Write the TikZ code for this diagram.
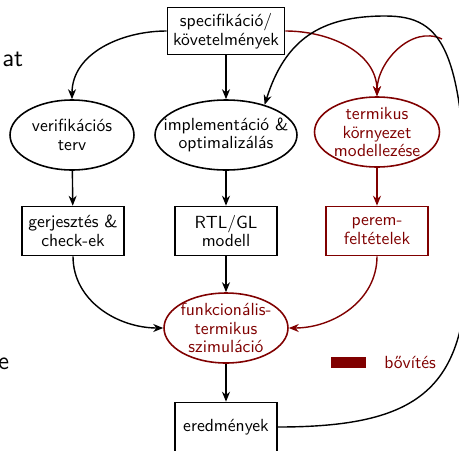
\documentclass[tikz,border=0pt]{standalone}
\usepackage{tikz}
\usetikzlibrary{arrows.meta,positioning,shapes.geometric}
\renewcommand{\familydefault}{\sfdefault}
\definecolor{FlowRed}{RGB}{128,0,0}
\definecolor{FlowInk}{RGB}{0,0,0}
\tikzset{
  flow/box/.style={
    draw=FlowInk,
    line width=0.9pt,
    fill=white,
    align=center,
    text=FlowInk,
    minimum width=2.04cm,
    minimum height=0.98cm,
    inner sep=2pt,
    font=\fontsize{10}{10.5}\selectfont
  },
  flow/ell/.style={
    ellipse,
    draw=FlowInk,
    line width=0.9pt,
    fill=white,
    align=center,
    text=FlowInk,
    minimum width=2.48cm,
    minimum height=1.4cm,
    inner xsep=-0.3cm,
    inner ysep=-0.3cm,
    font=\fontsize{10}{10.5}\selectfont
  },
  flow/redbox/.style={flow/box, draw=FlowRed, text=FlowRed},
  flow/redell/.style={flow/ell, draw=FlowRed, text=FlowRed},
  flow/arrow/.style={-{Stealth[length=2mm,width=1.6mm]}, thick, draw=FlowInk},
  flow/redarrow/.style={-{Stealth[length=2mm,width=1.6mm]}, thick, draw=FlowRed},
  flow/slide/.style={font=\fontsize{14.4}{16}\selectfont, inner sep=0pt}
}

\begin{document}
\begin{tikzpicture}[x=0.02cm,y=-0.02cm]
  \useasboundingbox (0,0) rectangle (459,450);
  % slide text cut by the frame
  \node[flow/slide,anchor=base west] (slidea) at (2,66) {at};
  \node[flow/slide,anchor=base east] (slideb) at (9.5,369) {e};

  \node[flow/box,minimum width=2.34cm,minimum height=0.94cm] (spec) at (226,31) {specifikáció/\\követelmények};
  \node[flow/ell] (verif) at (72,135) {verifikációs\\terv};
  \node[flow/ell,minimum width=2.84cm] (impl) at (226,135) {implementáció \&\\optimalizálás};
  \node[flow/redell,minimum width=2.5cm] (term) at (377,132) {termikus\\környezet\\modellezése};
  \node[flow/box] (gerj) at (73,231) {gerjesztés \&\\check-ek};
  \node[flow/box] (rtl) at (226,231) {RTL/GL\\modell};
  \node[flow/redbox] (perem) at (377,231) {perem-\\feltételek};
  \node[flow/redell] (szim) at (226,328) {funkcionális-\\termikus\\szimuláció};
  \node[flow/box] (ered) at (226,427) {eredmények};

  % legend
  \node[fill=FlowRed,minimum width=0.7cm,minimum height=0.22cm,inner sep=0pt] (legbar) at (348.5,362.5) {};
  \node[text=FlowRed,anchor=west,inner sep=0pt] (legtxt) at (384,362) {bővítés};

  \draw[flow/arrow] (spec.west) to[out=180,in=90] (verif.north);
  \draw[flow/arrow] (spec) -- (impl);
  \draw[flow/redarrow] (spec.east) to[out=0,in=90] (term.north);
  \draw[flow/arrow] (verif) -- (gerj);
  \draw[flow/arrow] (impl) -- (rtl);
  \draw[flow/redarrow] (term) -- (perem);
  \draw[flow/arrow] (rtl) -- (szim);
  \draw[flow/arrow] (gerj.south) to[out=-90,in=180] (szim.west);
  \draw[flow/redarrow] (perem.south) to[out=-90,in=0] (szim.east);
  \draw[flow/arrow] (szim) -- (ered);

  % feedback loop
  \coordinate (loop) at (467,260);
  \coordinate (top) at (385,16);
  \coordinate (split) at (442,39);
  \draw[flow/redarrow] (split) to[out=155,in=90] (term.north);
  \draw[flow/arrow] (ered.east) .. controls +(140,0) and +(0,130) .. (loop)
    .. controls (467,50) and (445,16) .. (top)
    .. controls (320,16) and (285,40) .. (impl.38);
\end{tikzpicture}
\end{document}
